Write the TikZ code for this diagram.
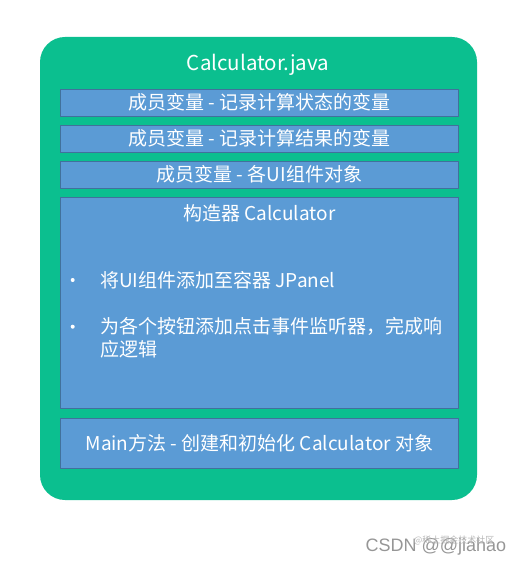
\documentclass[tikz,border=0pt]{standalone}
\usepackage{fontspec}
\setmainfont{Noto Sans CJK SC}
\newfontfamily\markfont{Liberation Sans}
\usetikzlibrary{positioning}
\definecolor{shellgreen}{RGB}{11,191,143}
\definecolor{partblue}{RGB}{91,155,213}
\definecolor{partedge}{RGB}{65,113,156}
\definecolor{markgray}{RGB}{150,150,150}
\tikzset{
	shell/.style={fill=shellgreen, rounded corners=25pt, minimum width=437pt, minimum height=463pt, inner sep=0pt},
	part/.style={draw=partedge, line width=0.8pt, fill=partblue, text=white, minimum width=398pt, inner sep=0pt, font=\fontsize{19}{22}\selectfont},
	parttext/.style={text=white, inner sep=0pt, font=\fontsize{19}{22.7}\selectfont},
	dot/.style={circle, fill=white, inner sep=0pt, minimum size=4pt}
}

\begin{document}
\begin{tikzpicture}[x=1pt, y=-1pt, node distance=8.5pt]
		%%%%% START %%%%%
		\useasboundingbox (0, 0) rectangle (522, 564);
		
		\node[shell] (file) at (258.5, 268.5) {};
		\node[text=white, font=\fontsize{20.5}{24}\selectfont] (filename) at (258, 65) {Calculator.java};
		
		% member variables
		\node[part, minimum height=26.7pt] (statevars) at (259.4, 102.7) {成员变量 - 记录计算状态的变量};
		\node[part, minimum height=26.7pt, below=of statevars] (resultvars) {成员变量 - 记录计算结果的变量};
		\node[part, minimum height=26.7pt, below=of resultvars] (uivars) {成员变量 - 各UI组件对象};
		
		% constructor
		\node[part, minimum height=211.5pt, below=of uivars] (ctor) {};
		\node[parttext] (ctorhead) at ([yshift=-16pt]ctor.north) {构造器 Calculator};
		\node[dot] (dotadd) at (72.7, 280) {};
		\node[parttext, anchor=west] (itemadd) at (100, 280) {将UI组件添加至容器 JPanel};
		\node[dot] (dotlisten) at (72.7, 326.7) {};
		\node[parttext, anchor=west, align=left] (itemlisten) at (100, 338) {为各个按钮添加点击事件监听器，完成响\\应逻辑};
		
		% main method
		\node[part, minimum height=50.5pt, below=of ctor] (mainpart) {Main方法 - 创建和初始化 Calculator 对象};
		
		% watermark
		\node[text=markgray, font=\markfont\fontsize{18}{20}\selectfont] (markcsdn) at (436, 547) {CSDN @@jiahao};
		\node[text=markgray!70, font=\fontsize{9}{10}\selectfont] (markjuejin) at (454, 540) {@稀土掘金技术社区};
		%%%%% END %%%%%
\end{tikzpicture}
\end{document}
